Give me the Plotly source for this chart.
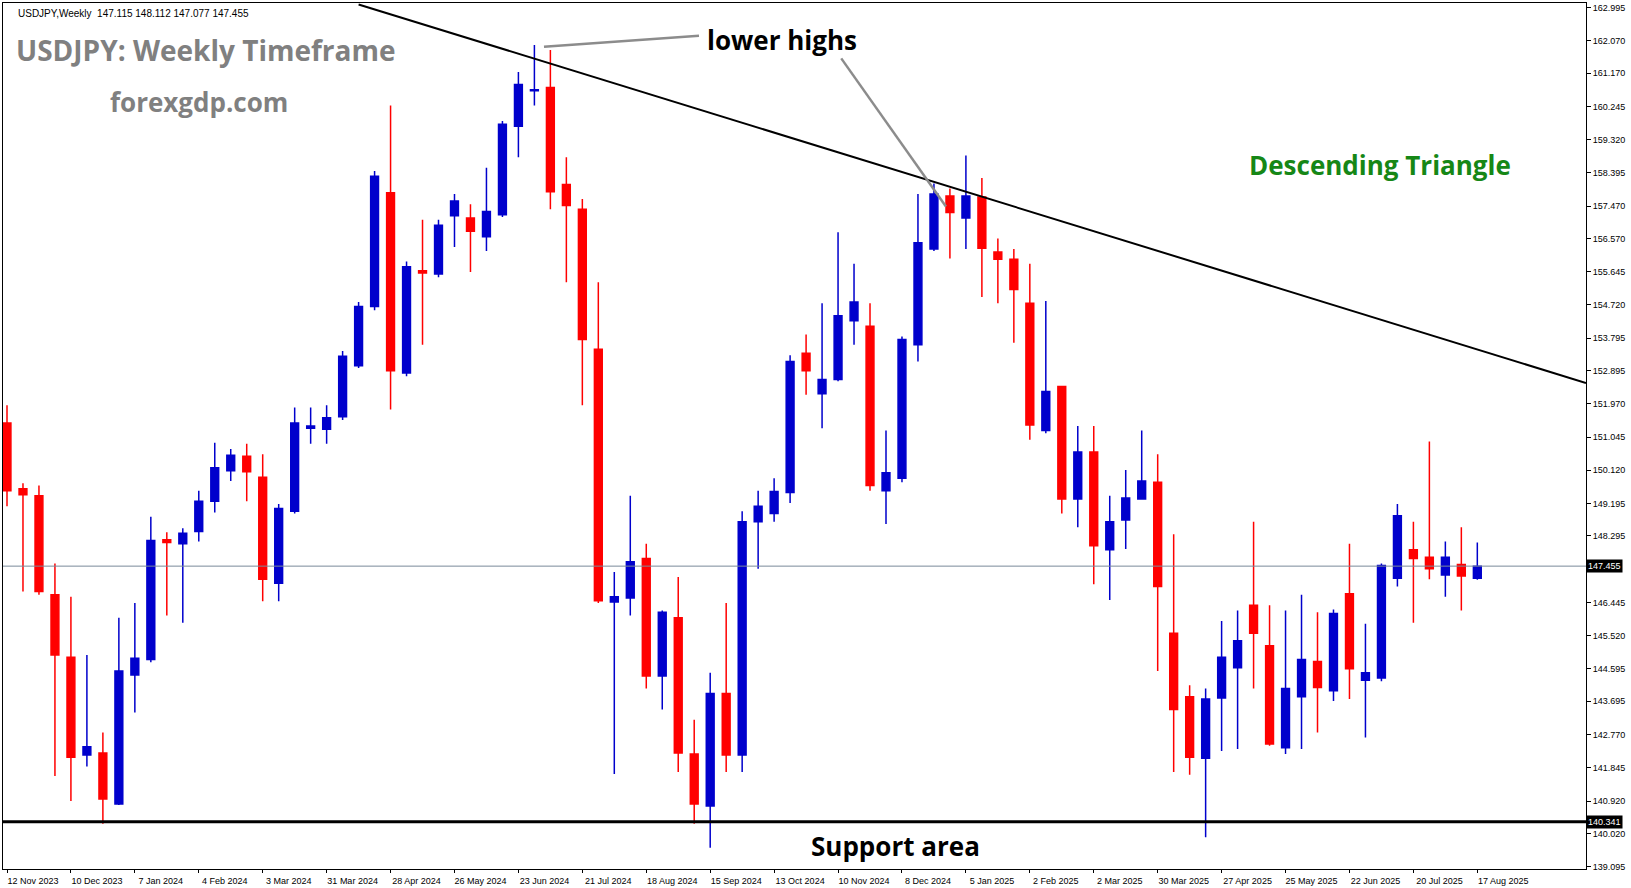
import datetime as dt
import plotly.graph_objects as go

# weekly USDJPY candles, first week 12 Nov 2023
start_week = dt.date(2023, 11, 12)
opens = [151.44, 149.61, 149.41, 146.66, 144.92, 142.20, 142.26, 140.84, 144.43, 144.86,
         148.19, 148.08, 148.42, 149.26, 150.11, 150.51, 149.93, 146.98, 148.98, 151.29,
         151.26, 151.61, 153.03, 154.68, 157.84, 152.83, 155.67, 155.58, 157.20, 157.14,
         156.62, 157.23, 159.69, 160.68, 160.77, 158.07, 157.38, 153.49, 146.46, 146.57,
         147.67, 144.40, 146.02, 142.23, 140.78, 143.91, 142.20, 148.69, 148.92, 149.50,
         153.38, 152.25, 152.65, 154.28, 154.13, 149.55, 149.90, 153.61, 156.28, 157.75,
         157.14, 157.72, 156.19, 155.99, 154.77, 151.23, 152.45, 149.32, 150.63, 147.91,
         148.74, 149.32, 149.79, 145.59, 143.82, 142.11, 143.79, 144.63, 146.37, 145.24,
         142.40, 143.82, 144.80, 143.99, 146.69, 144.28, 144.34, 147.12, 147.91, 147.70,
         147.21, 147.50, 147.115]
highs = [151.93, 149.76, 149.70, 147.53, 146.60, 144.98, 142.83, 146.02, 146.43, 148.83,
         148.40, 148.51, 149.55, 150.89, 150.71, 150.86, 150.57, 149.18, 151.87, 151.87,
         151.93, 153.44, 154.80, 158.45, 160.27, 155.93, 157.09, 157.09, 157.81, 157.52,
         158.54, 159.84, 161.20, 161.95, 161.81, 158.83, 157.67, 155.35, 147.29, 149.41,
         148.08, 146.22, 147.15, 143.18, 144.49, 146.43, 148.98, 149.55, 149.90, 153.32,
         153.90, 154.77, 156.74, 155.87, 154.77, 151.23, 153.84, 157.81, 158.10, 157.96,
         158.88, 158.25, 156.57, 156.28, 155.87, 154.83, 152.45, 151.35, 151.35, 149.41,
         150.13, 151.23, 150.57, 148.34, 144.14, 144.05, 145.93, 146.22, 148.69, 146.37,
         146.22, 146.66, 146.17, 146.25, 148.08, 145.85, 147.53, 149.18, 148.69, 150.92,
         148.14, 148.54, 148.112]
lows = [149.12, 146.75, 146.66, 141.62, 140.92, 141.88, 140.29, 140.81, 143.38, 144.78,
        146.08, 145.88, 148.14, 148.95, 149.82, 149.26, 146.48, 146.48, 148.92, 150.86,
        150.86, 151.52, 152.97, 154.57, 151.81, 152.74, 153.61, 155.49, 156.33, 155.64,
        156.22, 157.17, 158.83, 160.27, 157.38, 155.35, 151.93, 146.43, 141.67, 146.08,
        144.05, 143.47, 141.73, 140.29, 139.62, 141.73, 141.73, 147.38, 148.69, 149.21,
        152.22, 151.29, 152.60, 153.61, 149.55, 148.63, 149.79, 153.15, 156.22, 156.01,
        156.28, 154.94, 154.77, 153.67, 150.97, 151.15, 148.92, 148.54, 146.95, 146.51,
        147.93, 149.32, 144.54, 141.73, 141.65, 139.91, 142.31, 142.37, 144.05, 142.46,
        142.23, 142.37, 142.83, 143.70, 143.76, 142.69, 144.25, 146.89, 145.88, 147.09,
        146.60, 146.22, 147.077]
closes = [149.55, 149.44, 146.75, 144.98, 142.14, 142.43, 140.98, 144.54, 144.89, 148.17,
          148.11, 148.37, 149.26, 150.19, 150.54, 150.08, 147.09, 149.06, 151.44, 151.35,
          151.58, 153.29, 154.68, 158.30, 152.89, 155.78, 155.61, 156.94, 157.61, 156.77,
          157.32, 159.75, 160.85, 160.71, 157.87, 157.49, 153.76, 146.49, 146.60, 147.58,
          144.40, 146.17, 142.26, 140.84, 143.91, 142.20, 148.69, 149.12, 149.53, 153.15,
          152.89, 152.65, 154.42, 154.80, 149.70, 150.05, 153.76, 156.45, 157.81, 157.29,
          157.75, 156.30, 155.99, 155.15, 151.38, 152.31, 149.32, 150.63, 148.02, 148.69,
          149.35, 149.82, 146.89, 143.47, 142.14, 143.76, 144.92, 145.38, 145.59, 142.51,
          144.05, 144.86, 144.08, 146.14, 144.60, 144.49, 147.47, 148.86, 147.67, 147.38,
          147.70, 147.18, 147.455]

yticks = [162.995, 162.070, 161.170, 160.245, 159.320, 158.395, 157.470, 156.570, 155.645, 154.720,
          153.795, 152.895, 151.970, 151.045, 150.120, 149.195, 148.295, 146.445,
          145.520, 144.595, 143.695, 142.770, 141.845, 140.920, 140.020, 139.095]
current_price = 147.455
support_price = 140.341
trend_pts = [(22.0, 163.08), (98.8, 152.55)]  # (week index, price)

def tx(i):
    return dt.datetime.combine(start_week, dt.time()) + dt.timedelta(days=7 * i)

dates = [tx(i) for i in range(len(opens))]
tickdates = dates[::4]

fig = go.Figure()
fig.add_trace(go.Candlestick(
    x=dates, open=opens, high=highs, low=lows, close=closes,
    increasing=dict(line=dict(color="#0000CC", width=1.5), fillcolor="#0000CC"),
    decreasing=dict(line=dict(color="#FF0000", width=1.5), fillcolor="#FF0000"),
    whiskerwidth=0, showlegend=False, hoverinfo="x+y",
))

# descending trend line
fig.add_trace(go.Scatter(
    x=[tx(p[0]) for p in trend_pts], y=[p[1] for p in trend_pts], mode="lines",
    line=dict(color="black", width=2), showlegend=False, hoverinfo="skip",
))
# leader lines for "lower highs"
for (a, b) in [((33.6, 161.90), (43.3, 162.21)), ((52.2, 161.58), (58.75, 157.46))]:
    fig.add_trace(go.Scatter(
        x=[tx(a[0]), tx(b[0])], y=[a[1], b[1]], mode="lines",
        line=dict(color="#8c8c8c", width=2.5), showlegend=False, hoverinfo="skip",
    ))

fig.add_hline(y=current_price, line=dict(color="#7a8a99", width=1))
fig.add_hline(y=support_price, line=dict(color="black", width=3))

labels = [
    ("USDJPY: Weekly Timeframe", 12.4, 161.81, "#808080", 28),
    ("forexgdp.com", 12.0, 160.36, "#808080", 26),
    ("lower highs", 48.5, 162.10, "black", 26),
    ("Descending Triangle", 85.9, 158.62, "#168716", 26),
    ("Support area", 55.6, 139.67, "black", 26),
]
for t, xi, yv, col, sz in labels:
    fig.add_annotation(x=tx(xi), y=yv, text="<b>" + t + "</b>", showarrow=False,
                       font=dict(family="Open Sans", size=sz, color=col))

fig.add_annotation(xref="paper", yref="paper", x=0.008, y=0.997, xanchor="left", yanchor="top",
                   text="USDJPY,Weekly  147.115 148.112 147.077 147.455", showarrow=False,
                   font=dict(family="Arial", size=10, color="black"))
for p in [current_price, support_price]:
    fig.add_annotation(xref="paper", yref="y", x=1.0, y=p, xanchor="left",
                       text="%.3f" % p, showarrow=False, bgcolor="black", borderpad=1,
                       font=dict(family="Arial", size=9, color="white"))

fig.update_layout(
    width=1631, height=888,
    paper_bgcolor="white", plot_bgcolor="white",
    margin=dict(l=2, r=45, t=2, b=16),
    font=dict(family="Arial", size=9, color="black"),
    xaxis=dict(
        type="date", rangeslider=dict(visible=False),
        range=[tx(-0.25), tx(98.8)],
        tickvals=tickdates, ticktext=[d.strftime("%d %b %Y").lstrip("0") for d in tickdates],
        ticks="outside", ticklen=3, tickcolor="black", ticklabelshift=26,
        showgrid=False, showline=True, linecolor="black", mirror=True, linewidth=1,
        tickfont=dict(size=9), zeroline=False,
    ),
    yaxis=dict(
        side="right", range=[139.03, 163.12],
        tickvals=yticks, ticktext=["%.3f" % v for v in yticks],
        ticks="outside", ticklen=4, tickcolor="black",
        showgrid=False, showline=True, linecolor="black", mirror=True, linewidth=1,
        tickfont=dict(size=9), zeroline=False,
    ),
)

fig.write_html("out.html", config={"displayModeBar": False},
               post_script="document.body.style.margin='0';")
